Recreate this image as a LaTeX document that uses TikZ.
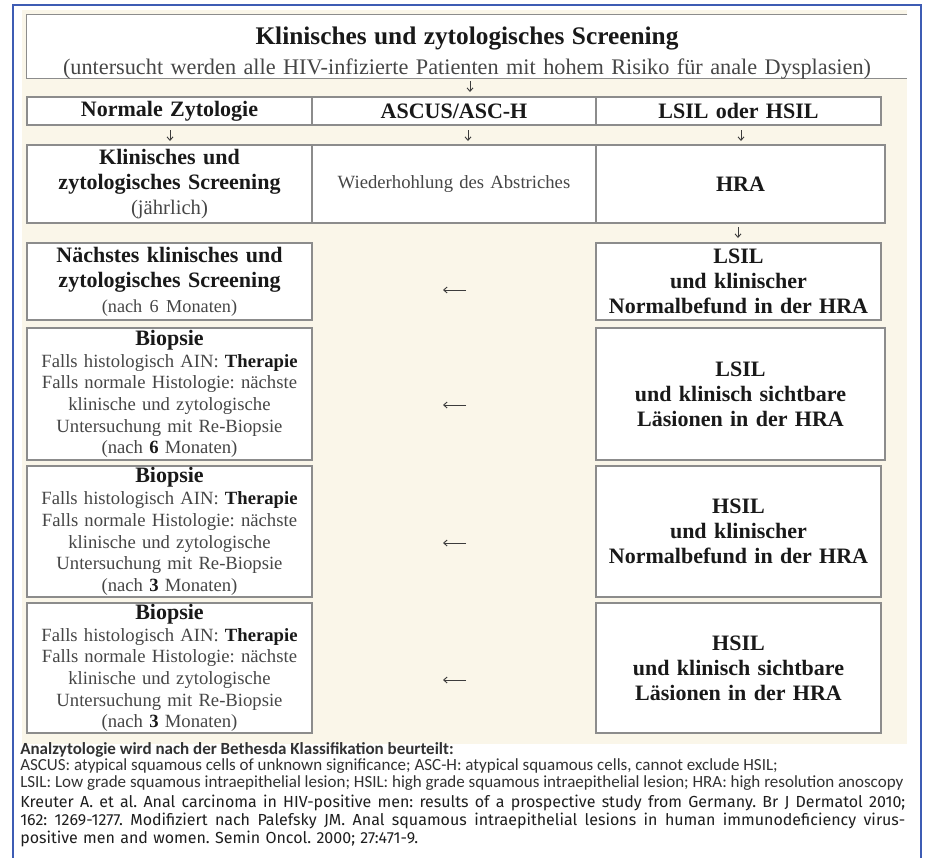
\documentclass[tikz,border=0pt]{standalone}
\usepackage{fontspec}
\setmainfont{Liberation Serif}
\newfontfamily\legendfont{Carlito}
\newfontfamily\reffont{Fira Sans}
\usetikzlibrary{arrows.meta}
\definecolor{beige}{RGB}{250,246,233}
\definecolor{frameblue}{RGB}{62,92,180}
\definecolor{boxline}{RGB}{140,140,140}
\definecolor{txtbold}{RGB}{25,25,25}
\definecolor{txtreg}{RGB}{70,70,70}
\definecolor{legtxt}{RGB}{50,50,50}
\definecolor{reftxt}{RGB}{30,30,30}
\definecolor{arrowc}{RGB}{60,60,60}
\newcommand\szB{\fontsize{16.5pt}{18.4pt}\selectfont}
\newcommand\regt[1]{{\mdseries\color{txtreg}#1}}
\newcommand\jline[1]{\leavevmode\hbox to 663.75pt{\spaceskip=0.25em plus 1em minus 0.05em\xspaceskip=\spaceskip #1}}
\frenchspacing
\begin{document}
\frenchspacing
\begin{tikzpicture}[x=0.75pt,y=-0.75pt,
  cell/.style={draw=boxline,line width=1.1pt,fill=white,inner sep=0pt,align=center,text width=205pt,text=txtbold},
  lcol/.style={cell,minimum width=213.75pt},
  mcol/.style={cell,minimum width=213pt},
  rcol/.style={cell,minimum width=213.75pt},
  rcolw/.style={cell,minimum width=216.75pt},
  boldtxt/.style={font=\fontsize{16.5pt}{18.75pt}\selectfont\bfseries},
  rightbox/.style={font=\fontsize{16.5pt}{18.6pt}\selectfont\bfseries},
  biop/.style={font=\fontsize{14pt}{16.3pt}\selectfont},
  arr/.style={draw=arrowc,line width=0.7pt,-{Straight Barb[length=2.6pt,width=4.5pt]}},
]
\useasboundingbox (0,0) rectangle (926,858);
\fill[white] (0,0) rectangle (926,858);
\fill[beige] (22,10) rectangle (907,744);
\draw[frameblue,line width=1.5pt] (12.5,858) -- (12.5,5) -- (920.5,5) -- (920.5,858);

% top box
\node[fill=white,minimum width=660pt,minimum height=47.25pt,inner sep=0pt] (top) at (467,46.5) {};
\draw[boxline,line width=1.1pt] (top.north east) -- (top.north west) -- (top.south west) -- (top.south east);
\node[align=center,inner sep=0pt,text width=655pt,text=txtbold,font=\fontsize{16.7pt}{22.5pt}\selectfont] (toptitle) at (467,53)
  {{\fontsize{19pt}{22.5pt}\selectfont\bfseries Klinisches und zytologisches Screening}\\
   {\color{txtreg}(untersucht werden alle HIV-infizierte Patienten mit hohem Risiko für anale Dysplasien)}};

% row 2
\node[lcol,boldtxt,minimum height=21pt] (nz) at (169.5,111) {Normale Zytologie};
\node[mcol,boldtxt,minimum height=21pt] (asc) at (454,111) {ASCUS/ASC-H};
\node[rcol,boldtxt,minimum height=21pt] (lh) at (738.5,111) {LSIL oder HSIL};

% row 3
\node[lcol,boldtxt,minimum height=58.5pt] (scr) at (169.5,184)
  {Klinisches und\\zytologisches Screening\\{\mdseries\fontsize{15.5pt}{18.75pt}\selectfont\color{txtreg}(jährlich)}};
\node[mcol,minimum height=58.5pt,font=\fontsize{14pt}{16pt}\selectfont,text=txtreg] (wdh) at (454,184) {Wiederhohlung des Abstriches};
\node[rcolw,boldtxt,minimum height=58.5pt] (hra) at (740.5,184) {HRA};

% left column
\node[lcol,boldtxt,minimum height=57.75pt] (next) at (169.5,281.5)
  {Nächstes klinisches und\\zytologisches Screening\\{\mdseries\fontsize{13.7pt}{18.75pt}\selectfont\color{txtreg}(nach 6 Monaten)}};
\node[lcol,biop,minimum height=99pt] (b1) at (169.5,394)
  {{\szB\bfseries Biopsie}\\
   \regt{Falls histologisch AIN:} \textbf{Therapie}\\
   \regt{Falls normale Histologie: nächste}\\
   \regt{klinische und zytologische}\\
   \regt{Untersuchung mit Re-Biopsie}\\
   \regt{(nach} \textbf{6} \regt{Monaten)}};
\node[lcol,biop,minimum height=98.25pt] (b2) at (169.5,531.5)
  {{\szB\bfseries Biopsie}\\
   \regt{Falls histologisch AIN:} \textbf{Therapie}\\
   \regt{Falls normale Histologie: nächste}\\
   \regt{klinische und zytologische}\\
   \regt{Untersuchung mit Re-Biopsie}\\
   \regt{(nach} \textbf{3} \regt{Monaten)}};
\node[lcol,biop,minimum height=97.5pt] (b3) at (169.5,668)
  {{\szB\bfseries Biopsie}\\
   \regt{Falls histologisch AIN:} \textbf{Therapie}\\
   \regt{Falls normale Histologie: nächste}\\
   \regt{klinische und zytologische}\\
   \regt{Untersuchung mit Re-Biopsie}\\
   \regt{(nach} \textbf{3} \regt{Monaten)}};

% right column
\node[rcol,rightbox,minimum height=57.75pt] (r1) at (738.5,281.5) {LSIL\\und klinischer\\Normalbefund in der HRA};
\node[rcolw,boldtxt,minimum height=99pt] (r2) at (740.5,394) {LSIL\\und klinisch sichtbare\\Läsionen in der HRA};
\node[rcol,boldtxt,minimum height=98.25pt] (r3) at (738.5,531.5) {HSIL\\und klinischer\\Normalbefund in der HRA};
\node[rcol,boldtxt,minimum height=97.5pt] (r4) at (738.5,668) {HSIL\\und klinisch sichtbare\\Läsionen in der HRA};

% arrows
\coordinate (d0a) at (470,81); \coordinate (d0b) at (470,92);
\coordinate (d1a) at (170,130); \coordinate (d1b) at (170,141);
\coordinate (d2a) at (468,130); \coordinate (d2b) at (468,141);
\coordinate (d3a) at (741,130); \coordinate (d3b) at (741,141);
\coordinate (d4a) at (738,227); \coordinate (d4b) at (738,238);
\coordinate (l1a) at (466,290); \coordinate (l1b) at (443,290);
\coordinate (l2a) at (466,405); \coordinate (l2b) at (443,405);
\coordinate (l3a) at (466,543); \coordinate (l3b) at (443,543);
\coordinate (l4a) at (466,680); \coordinate (l4b) at (443,680);
\draw[arr] (d0a) -- (d0b);
\draw[arr] (d1a) -- (d1b);
\draw[arr] (d2a) -- (d2b);
\draw[arr] (d3a) -- (d3b);
\draw[arr] (d4a) -- (d4b);
\draw[arr] (l1a) -- (l1b);
\draw[arr] (l2a) -- (l2b);
\draw[arr] (l3a) -- (l3b);
\draw[arr] (l4a) -- (l4b);

% footer
\node[anchor=north west,inner sep=0pt,align=left,font=\legendfont\fontsize{12.75pt}{12.4pt}\selectfont,text=legtxt] (leg) at (20,742)
  {\textbf{Analzytologie wird nach der Bethesda Klassifikation beurteilt:}\\
   ASCUS: atypical squamous cells of unknown significance; ASC-H: atypical squamous cells, cannot exclude HSIL;\\
   LSIL: Low grade squamous intraepithelial lesion; HSIL: high grade squamous intraepithelial lesion; HRA: high resolution anoscopy};
\node[anchor=north west,inner sep=0pt,text width=663.75pt,align=left,font=\reffont\fontsize{12pt}{13.3pt}\selectfont,text=reftxt] (ref) at (20,795)
  {\jline{Kreuter A. et al. Anal carcinoma in HIV-positive men: results of a prospective study from Germany. Br J Dermatol 2010;}\\
   \jline{162: 1269-1277. Modifiziert nach Palefsky JM. Anal squamous intraepithelial lesions in human immunodeficiency virus-}\\
   positive men and women. Semin Oncol. 2000; 27:471-9.};
\end{tikzpicture}
\end{document}
